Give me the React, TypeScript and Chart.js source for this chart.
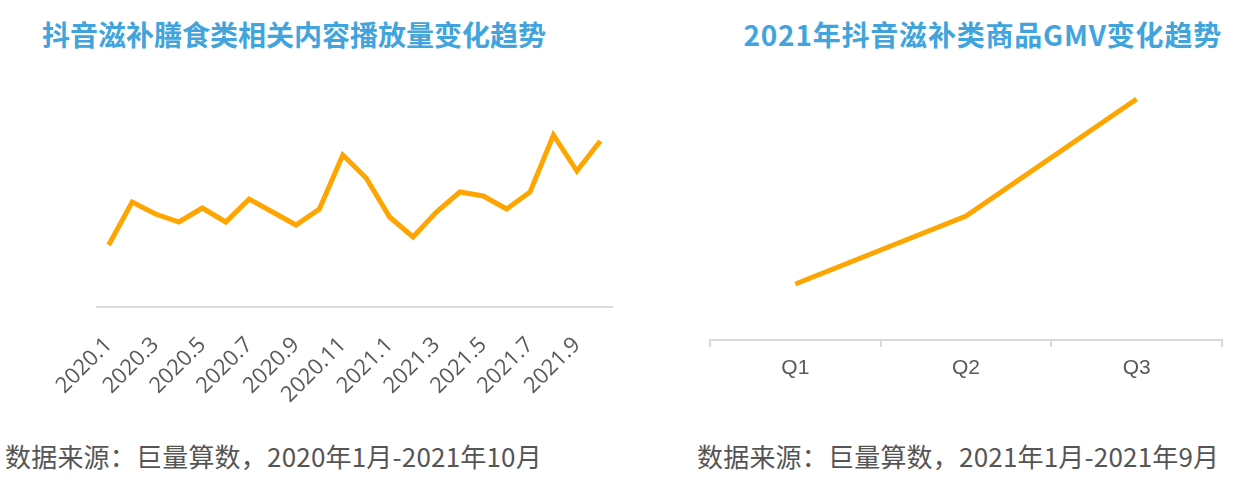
import React, { useEffect, useRef } from 'react';
import { Chart, registerables } from 'chart.js';

Chart.register(...registerables);

const leftTitle = '抖音滋补膳食类相关内容播放量变化趋势';
const rightTitle = '2021年抖音滋补类商品GMV变化趋势';
const leftSource = '数据来源：巨量算数，2020年1月-2021年10月';
const rightSource = '数据来源：巨量算数，2021年1月-2021年9月';

const leftCategories = [
  '2020.1', '2020.2', '2020.3', '2020.4', '2020.5', '2020.6', '2020.7', '2020.8', '2020.9', '2020.10', '2020.11', '2020.12',
  '2021.1', '2021.2', '2021.3', '2021.4', '2021.5', '2021.6', '2021.7', '2021.8', '2021.9', '2021.10',
];
const leftValues = [62, 105, 93, 85, 99, 85, 108, 95, 82, 98, 152, 129, 90, 70, 95, 115, 111, 98, 115, 172, 136, 166];

const rightCategories = ['Q1', 'Q2', 'Q3'];
const rightValues = [56, 124, 241];

const LINE_COLOR = '#FFA500';
const AXIS_COLOR = '#d9d9d9';
const TICK_COLOR = '#595959';
const TITLE_COLOR = '#41a4dc';

function LeftChart() {
  const ref = useRef<HTMLCanvasElement | null>(null);
  useEffect(() => {
    if (!ref.current) return;
    const chart = new Chart(ref.current, {
      type: 'line',
      data: {
        labels: leftCategories,
        datasets: [
          {
            data: leftValues,
            borderColor: LINE_COLOR,
            backgroundColor: LINE_COLOR,
            borderWidth: 5,
            pointRadius: 0,
            tension: 0,
            fill: false,
          },
        ],
      },
      options: {
        animation: false,
        responsive: false,
        maintainAspectRatio: false,
        layout: { padding: { left: 77, right: 18, top: 17, bottom: 0 } },
        plugins: { legend: { display: false }, tooltip: { enabled: false }, title: { display: false } },
        scales: {
          x: {
            offset: true,
            grid: { display: false, drawTicks: false },
            border: { display: true, color: AXIS_COLOR, width: 2 },
            ticks: {
              autoSkip: false,
              minRotation: 45,
              maxRotation: 45,
              padding: 25,
              color: TICK_COLOR,
              font: { family: '"Open Sans", sans-serif', size: 22 },
              callback: (_v: any, idx: number) => (idx % 2 === 0 ? leftCategories[idx] : ''),
            },
            afterFit: (s: any) => {
              s.height = 113;
              s.paddingLeft = 0;
              s.paddingRight = 0;
            },
          },
          y: { display: false, min: 0, max: 220 },
        },
      },
    });
    return () => chart.destroy();
  }, []);
  return (
    <canvas
      ref={ref}
      width={610}
      height={350}
      style={{ position: 'absolute', left: 20, top: 70, width: 610, height: 350 }}
    />
  );
}

function RightChart() {
  const ref = useRef<HTMLCanvasElement | null>(null);
  useEffect(() => {
    if (!ref.current) return;
    const chart = new Chart(ref.current, {
      type: 'line',
      data: {
        labels: rightCategories,
        datasets: [
          {
            data: rightValues,
            borderColor: LINE_COLOR,
            backgroundColor: LINE_COLOR,
            borderWidth: 5,
            pointRadius: 0,
            tension: 0,
            fill: false,
          },
        ],
      },
      options: {
        animation: false,
        responsive: false,
        maintainAspectRatio: false,
        layout: { padding: { left: 20, right: 20, top: 10, bottom: 0 } },
        plugins: { legend: { display: false }, tooltip: { enabled: false }, title: { display: false } },
        scales: {
          x: {
            offset: true,
            grid: {
              display: true,
              drawOnChartArea: false,
              drawTicks: true,
              tickLength: 7,
              offset: true,
              color: AXIS_COLOR,
              lineWidth: 2,
            },
            border: { display: true, color: AXIS_COLOR, width: 2 },
            ticks: {
              padding: 9,
              color: TICK_COLOR,
              font: { family: '"Liberation Sans", Arial, sans-serif', size: 21 },
            },
            afterFit: (s: any) => {
              s.height = 80;
              s.paddingLeft = 0;
              s.paddingRight = 0;
            },
          },
          y: { display: false, min: 0, max: 280 },
        },
      },
    });
    return () => chart.destroy();
  }, []);
  return (
    <canvas
      ref={ref}
      width={552}
      height={370}
      style={{ position: 'absolute', left: 690, top: 50, width: 552, height: 370 }}
    />
  );
}

export default function App() {
  const titleStyle: React.CSSProperties = {
    position: 'absolute',
    top: 14,
    fontFamily: '"Noto Sans CJK SC", sans-serif',
    fontWeight: 700,
    fontSize: 28,
    lineHeight: '40px',
    color: TITLE_COLOR,
    whiteSpace: 'nowrap',
  };
  const sourceStyle: React.CSSProperties = {
    position: 'absolute',
    top: 437,
    fontFamily: '"Noto Sans CJK SC", sans-serif',
    fontSize: 26,
    lineHeight: '38px',
    letterSpacing: '0.2px',
    color: '#555555',
    whiteSpace: 'nowrap',
  };
  return (
    <div style={{ position: 'absolute', left: 0, top: 0, width: 1242, height: 484, background: '#fff', overflow: 'hidden' }}>
      <div style={{ ...titleStyle, left: 42 }}>{leftTitle}</div>
      <div style={{ ...titleStyle, right: 20, letterSpacing: '0.8px' }}>{rightTitle}</div>
      <LeftChart />
      <RightChart />
      <div style={{ ...sourceStyle, left: 5 }}>{leftSource}</div>
      <div style={{ ...sourceStyle, left: 697 }}>{rightSource}</div>
    </div>
  );
}
